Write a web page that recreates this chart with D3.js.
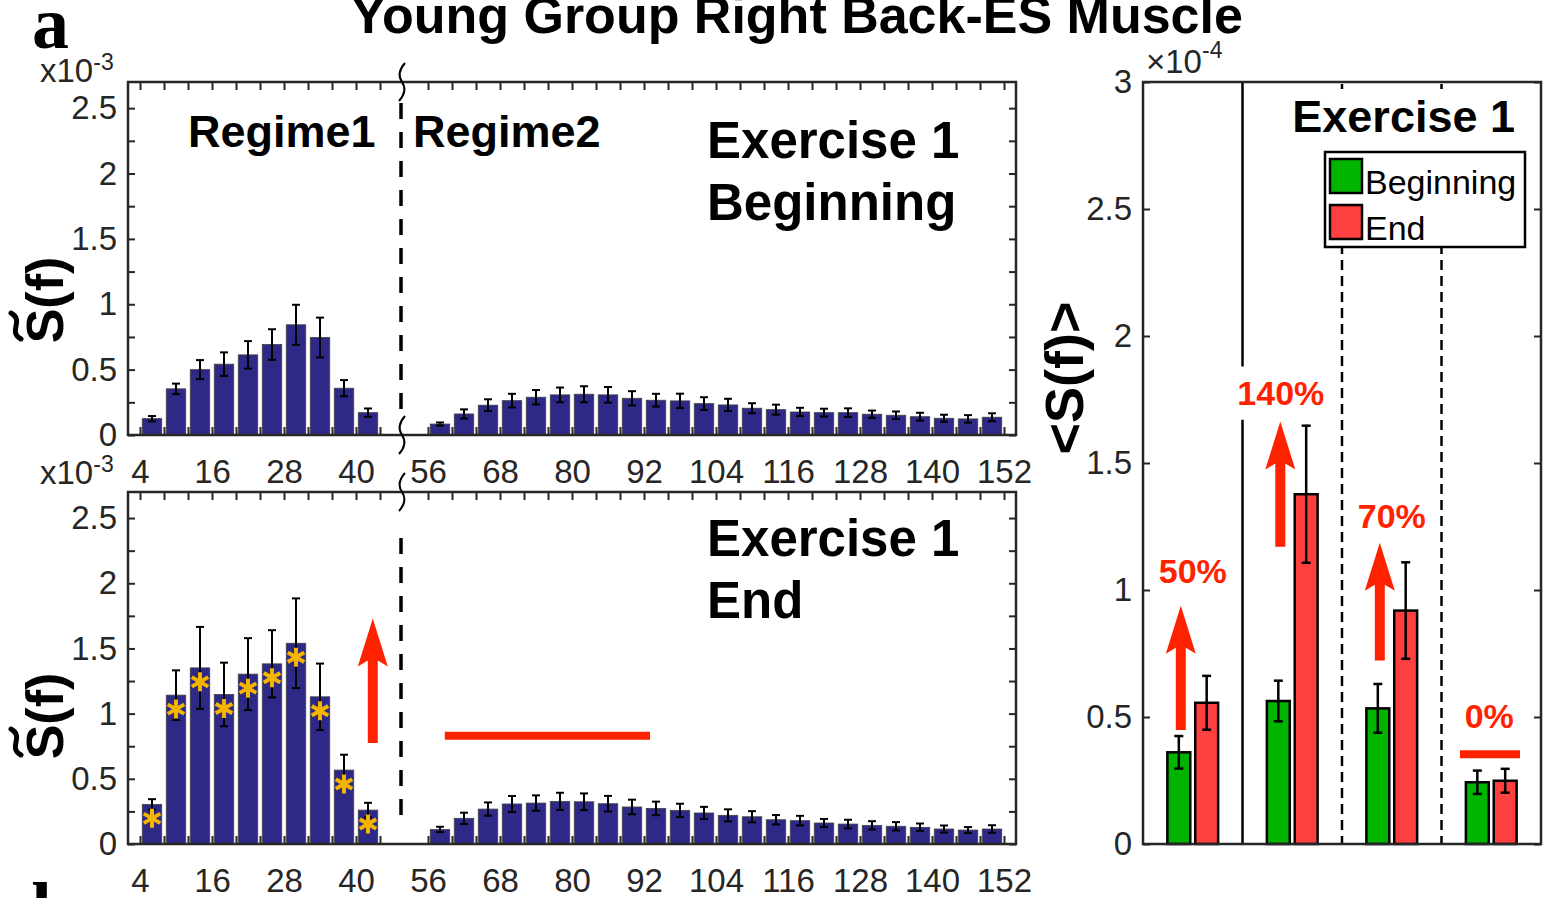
<!DOCTYPE html>
<html>
<head>
<meta charset="utf-8">
<script src="https://cdn.jsdelivr.net/npm/d3@7"></script>
<style>
  body { margin: 0; background: #fff; }
  text { font-family: "Liberation Sans", Arial, Helvetica, sans-serif; }
</style>
</head>
<body>
<svg id="fig" width="1557" height="898"></svg>
<script>
// ---- data (spectra in units of 1e-3, bin start frequency in Hz) ----
var binsR1 = [4, 8, 12, 16, 20, 24, 28, 32, 36, 40];
var binsR2 = [56, 60, 64, 68, 72, 76, 80, 84, 88, 92, 96, 100, 104, 108, 112, 116, 120, 124, 128, 132, 136, 140, 144, 148];
var xTickLabels = [4, 16, 28, 40, 56, 68, 80, 92, 104, 116, 128, 140, 152];
var xTicks = [4, 8, 12, 16, 20, 24, 28, 32, 36, 40, 44, 56, 60, 64, 68, 72, 76, 80, 84, 88, 92, 96, 100, 104, 108, 112, 116, 120, 124, 128, 132, 136, 140, 144, 148, 152];
var yTickLabels = [0, 0.5, 1, 1.5, 2, 2.5];
var yTicks = [0, 0.25, 0.5, 0.75, 1, 1.25, 1.5, 1.75, 2, 2.25, 2.5];

var begR1 = [0.125, 0.353, 0.50, 0.542, 0.613, 0.692, 0.843, 0.746, 0.358, 0.171];
var begR1Err = [0.02, 0.04, 0.073, 0.09, 0.105, 0.117, 0.153, 0.152, 0.062, 0.032];
var begR2 = [0.084, 0.161, 0.228, 0.263, 0.289, 0.307, 0.312, 0.307, 0.281, 0.266, 0.261, 0.24,
             0.23, 0.205, 0.194, 0.176, 0.171, 0.171, 0.159, 0.151, 0.14, 0.128, 0.123, 0.136];
var begR2Err = [0.012, 0.035, 0.045, 0.052, 0.055, 0.056, 0.061, 0.06, 0.054, 0.049, 0.055, 0.049,
                0.047, 0.038, 0.038, 0.032, 0.03, 0.033, 0.028, 0.029, 0.03, 0.027, 0.029, 0.03];
var endR1 = [0.304, 1.142, 1.351, 1.147, 1.303, 1.382, 1.540, 1.129, 0.567, 0.26];
var endR1Err = [0.04, 0.19, 0.314, 0.244, 0.276, 0.258, 0.344, 0.255, 0.118, 0.056];
var endR2 = [0.112, 0.197, 0.268, 0.307, 0.314, 0.327, 0.324, 0.309, 0.284, 0.273, 0.258, 0.238,
             0.22, 0.209, 0.186, 0.179, 0.161, 0.153, 0.143, 0.136, 0.128, 0.115, 0.107, 0.115];
var endR2Err = [0.02, 0.043, 0.051, 0.061, 0.059, 0.066, 0.064, 0.06, 0.056, 0.052, 0.051, 0.047,
                0.046, 0.043, 0.036, 0.037, 0.031, 0.033, 0.032, 0.032, 0.029, 0.027, 0.023, 0.029];
var endR1Starred = [true, true, true, true, true, true, true, true, true, true];

// ---- averaged spectra (units of 1e-4) ----
var groups = [1, 2, 3, 4];
var meanBeg = [0.361, 0.563, 0.534, 0.243];
var meanBegErr = [0.064, 0.08, 0.096, 0.046];
var meanEnd = [0.556, 1.377, 0.919, 0.249];
var meanEndErr = [0.106, 0.27, 0.19, 0.047];
var changeText = ["50%", "140%", "70%", "0%"];
var rightTicks = [0, 0.5, 1, 1.5, 2, 2.5, 3];

var AX = "#262626", BAR = "#2e2886", RED = "#ff2200", STAR = "#f5b400";
var svg = d3.select("#fig");

function arrowPath(x, yb, yt) {
  var sw = 10, hw = 30, hl = 48, hb = yt + hl;
  return "M" + (x - sw / 2) + "," + yb + "L" + (x - sw / 2) + "," + (hb - 6) +
    "L" + (x - hw / 2) + "," + hb + "L" + x + "," + yt + "L" + (x + hw / 2) + "," + hb +
    "L" + (x + sw / 2) + "," + (hb - 6) + "L" + (x + sw / 2) + "," + yb + "Z";
}

function squiggle(x, c) {
  return "M" + (x + 3) + "," + (c - 19) + "Q" + (x - 6) + "," + (c - 9) + " " + x + "," + c +
    "Q" + (x + 6) + "," + (c + 9) + " " + (x - 3) + "," + (c + 19);
}

function starPath(cx, cy) {
  var r = 9.5, p = "";
  [90, 30, 150].forEach(function (a) {
    var dx = r * Math.cos(a * Math.PI / 180), dy = r * Math.sin(a * Math.PI / 180);
    p += "M" + (cx - dx) + "," + (cy - dy) + "L" + (cx + dx) + "," + (cy + dy);
  });
  return p;
}

function spectrumPanel(top, bottom, v1, e1, v2, e2, opts) {
  var x = d3.scaleLinear().domain([2, 48, 52, 154]).range([128, 404, 404, 1016]);
  var y = d3.scaleLinear().domain([0, 2.7]).range([bottom, top]);
  var g = svg.append("g");
  var bw = 19.5;

  var d1 = binsR1.map(function (b, i) { return {f: b, v: v1[i], e: e1[i], s: opts.stars ? opts.stars[i] : false}; });
  var d2 = binsR2.map(function (b, i) { return {f: b, v: v2[i], e: e2[i], s: false}; });
  var data = d1.concat(d2);

  // inner ticks
  g.append("g").attr("transform", "translate(0," + top + ")")
    .call(d3.axisTop(x).tickValues(xTicks).tickSize(-8).tickFormat(""));
  g.append("g").attr("transform", "translate(0," + bottom + ")")
    .call(d3.axisBottom(x).tickValues(xTicks).tickSize(-8).tickFormat(""));
  g.append("g").attr("transform", "translate(128,0)")
    .call(d3.axisLeft(y).tickValues(yTicks).tickSize(-7).tickFormat(""));
  g.append("g").attr("transform", "translate(1016,0)")
    .call(d3.axisRight(y).tickValues(yTicks).tickSize(-7).tickFormat(""));

  // labels
  var xl = g.append("g").attr("transform", "translate(0," + bottom + ")")
    .call(d3.axisBottom(x).tickValues(xTickLabels).tickSize(0).tickFormat(d3.format("d")));
  xl.selectAll("text").attr("y", 48).attr("dy", null);
  g.append("g").attr("transform", "translate(128,0)")
    .call(d3.axisLeft(y).tickValues(yTickLabels).tickSize(0).tickPadding(11).tickFormat(d3.format("")));
  g.selectAll(".domain").remove();
  g.selectAll(".tick line").attr("stroke", AX).attr("stroke-width", 2);
  g.selectAll(".tick text").attr("fill", AX).style("font-size", "33px");

  // bars + error bars
  g.selectAll("rect.bar").data(data).enter().append("rect").attr("class", "bar")
    .attr("x", function (d) { return x(d.f + 2) - bw / 2; })
    .attr("y", function (d) { return y(d.v); })
    .attr("width", bw)
    .attr("height", function (d) { return y(0) - y(d.v); })
    .attr("fill", BAR).attr("stroke", "#444").attr("stroke-width", 0.8);

  var eb = g.selectAll("g.eb").data(data).enter().append("g").attr("class", "eb")
    .attr("stroke", "#000").attr("stroke-width", 2);
  eb.append("line")
    .attr("x1", function (d) { return x(d.f + 2); }).attr("x2", function (d) { return x(d.f + 2); })
    .attr("y1", function (d) { return y(d.v + d.e); }).attr("y2", function (d) { return y(d.v - d.e); });
  eb.append("line")
    .attr("x1", function (d) { return x(d.f + 2) - 4; }).attr("x2", function (d) { return x(d.f + 2) + 4; })
    .attr("y1", function (d) { return y(d.v + d.e); }).attr("y2", function (d) { return y(d.v + d.e); });
  eb.append("line")
    .attr("x1", function (d) { return x(d.f + 2) - 4; }).attr("x2", function (d) { return x(d.f + 2) + 4; })
    .attr("y1", function (d) { return y(d.v - d.e); }).attr("y2", function (d) { return y(d.v - d.e); });

  g.selectAll("path.star").data(data.filter(function (d) { return d.s; })).enter().append("path")
    .attr("class", "star")
    .attr("d", function (d) { return starPath(x(d.f + 2), y(d.v) + 14); })
    .attr("stroke", STAR).attr("stroke-width", 4).attr("stroke-linecap", "butt");

  // frame
  g.append("rect").attr("x", 128).attr("y", top).attr("width", 1016 - 128).attr("height", bottom - top)
    .attr("fill", "none").attr("stroke", AX).attr("stroke-width", 2.5);

  // axis break
  g.append("line").attr("x1", 401).attr("x2", 401)
    .attr("y1", top + opts.dashTop).attr("y2", bottom - opts.dashBottom)
    .attr("stroke", "#000").attr("stroke-width", 3.5).attr("stroke-dasharray", "16,13");
  g.append("path").attr("d", squiggle(402, top)).attr("fill", "none").attr("stroke", "#000").attr("stroke-width", 2);
  if (opts.bottomBreak) {
    g.append("path").attr("d", squiggle(402, bottom)).attr("fill", "none").attr("stroke", "#000").attr("stroke-width", 2);
  }

  // multiplier
  var m = g.append("text").attr("x", 40).attr("y", top + opts.multY).attr("fill", AX).style("font-size", "33px");
  m.append("tspan").text("x10");
  m.append("tspan").attr("dy", -12).style("font-size", "23px").text("-3");

  return {x: x, y: y, g: g};
}

function yLabelTilde(cy) {
  // S~(f) rotated, tilde drawn above the S
  svg.append("text").attr("transform", "translate(63," + cy + ") rotate(-90)")
    .attr("text-anchor", "middle").style("font-size", "52px").style("font-weight", "bold").text("S(f)");
  var sx = 16, sy = cy + 26;
  svg.append("path")
    .attr("d", "M" + (sx + 5) + "," + (sy + 13) + "C" + (sx - 9) + "," + (sy + 5) + " " + (sx + 9) + "," + (sy - 5) + " " + (sx - 5) + "," + (sy - 13))
    .attr("fill", "none").attr("stroke", "#000").attr("stroke-width", 5).attr("stroke-linecap", "round");
}

function boldText(x, y, size, txt, anchor, color) {
  return svg.append("text").attr("x", x).attr("y", y).attr("text-anchor", anchor || "start")
    .attr("fill", color || "#000").style("font-size", size + "px").style("font-weight", "bold").text(txt);
}

// ---- title and panel letters ----
boldText(797, 33, 52, "Young Group Right Back-ES Muscle", "middle");
svg.append("text").attr("x", 32).attr("y", 48).style("font-family", "'Liberation Serif', 'Times New Roman', serif")
  .style("font-size", "74px").style("font-weight", "bold").text("a");
svg.append("text").attr("x", 32).attr("y", 934).style("font-family", "'Liberation Serif', 'Times New Roman', serif")
  .style("font-size", "74px").style("font-weight", "bold").text("b");

// ---- spectrum panels ----
var pTop = spectrumPanel(82, 435, begR1, begR1Err, begR2, begR2Err,
  {bottomBreak: true, dashTop: 21, dashBottom: 15, multY: 0});
var pBot = spectrumPanel(492, 844, endR1, endR1Err, endR2, endR2Err,
  {stars: endR1Starred, bottomBreak: false, dashTop: 46, dashBottom: 16, multY: -8});

yLabelTilde(300);
yLabelTilde(716);

boldText(188, 147, 45, "Regime1");
boldText(413, 147, 45, "Regime2");
boldText(707, 158, 51, "Exercise 1");
boldText(707, 220, 51, "Beginning");
boldText(707, 556, 51, "Exercise 1");
boldText(707, 618, 51, "End");

// change markers on the "End" panel
pBot.g.append("path").attr("d", arrowPath(pBot.x(42.8), pBot.y(0.774), pBot.y(1.73))).attr("fill", RED);
pBot.g.append("line").attr("x1", pBot.x(58.8)).attr("x2", pBot.x(93))
  .attr("y1", pBot.y(0.83)).attr("y2", pBot.y(0.83)).attr("stroke", RED).attr("stroke-width", 8);

// ---- averaged spectrum panel ----
var xr = d3.scaleLinear().domain([0.5, 4.5]).range([1143, 1541]);
var yr = d3.scaleLinear().domain([0, 3]).range([844, 82]);
var gr = svg.append("g");
var rbw = xr(1.23) - xr(1);

gr.append("g").attr("transform", "translate(1143,0)")
  .call(d3.axisLeft(yr).tickValues(rightTicks).tickSize(-7).tickPadding(11).tickFormat(d3.format("")));
gr.append("g").attr("transform", "translate(1541,0)")
  .call(d3.axisRight(yr).tickValues(rightTicks).tickSize(-7).tickFormat(""));
gr.selectAll(".domain").remove();
gr.selectAll(".tick line").attr("stroke", AX).attr("stroke-width", 2);
gr.selectAll(".tick text").attr("fill", AX).style("font-size", "33px");

// group separators
gr.append("line").attr("x1", xr(1.5)).attr("x2", xr(1.5)).attr("y1", 82).attr("y2", yr(1.88))
  .attr("stroke", "#000").attr("stroke-width", 2.5);
gr.append("line").attr("x1", xr(1.5)).attr("x2", xr(1.5)).attr("y1", yr(1.67)).attr("y2", 844)
  .attr("stroke", "#000").attr("stroke-width", 2.5);
[2.5, 3.5].forEach(function (s) {
  gr.append("line").attr("x1", xr(s)).attr("x2", xr(s)).attr("y1", 84).attr("y2", 844)
    .attr("stroke", "#000").attr("stroke-width", 2.5).attr("stroke-dasharray", "10,6");
});

var rdata = [];
groups.forEach(function (gi, i) {
  rdata.push({x: gi - 0.14, v: meanBeg[i], e: meanBegErr[i], c: "#00b400"});
  rdata.push({x: gi + 0.14, v: meanEnd[i], e: meanEndErr[i], c: "#ff4040"});
});
gr.selectAll("rect.rb").data(rdata).enter().append("rect").attr("class", "rb")
  .attr("x", function (d) { return xr(d.x) - rbw / 2; })
  .attr("y", function (d) { return yr(d.v); })
  .attr("width", rbw).attr("height", function (d) { return yr(0) - yr(d.v); })
  .attr("fill", function (d) { return d.c; }).attr("stroke", "#000").attr("stroke-width", 2.5);
var reb = gr.selectAll("g.reb").data(rdata).enter().append("g").attr("class", "reb")
  .attr("stroke", "#000").attr("stroke-width", 2.5);
reb.append("line")
  .attr("x1", function (d) { return xr(d.x); }).attr("x2", function (d) { return xr(d.x); })
  .attr("y1", function (d) { return yr(d.v + d.e); }).attr("y2", function (d) { return yr(d.v - d.e); });
[1, -1].forEach(function (s) {
  reb.append("line")
    .attr("x1", function (d) { return xr(d.x) - 4.5; }).attr("x2", function (d) { return xr(d.x) + 4.5; })
    .attr("y1", function (d) { return yr(d.v + s * d.e); }).attr("y2", function (d) { return yr(d.v + s * d.e); });
});

// change annotations (arrows start at the Beginning bar)
var arrows = [
  {g: 1, base: 0.449, tip: 0.938, labelX: 1.0, labelY: 1.028},
  {g: 2, base: 1.17, tip: 1.663, labelX: 1.885, labelY: 1.728},
  {g: 3, base: 0.722, tip: 1.186, labelX: 3.0, labelY: 1.243}
];
arrows.forEach(function (a) {
  gr.append("path").attr("d", arrowPath(xr(a.g - 0.12), yr(a.base), yr(a.tip))).attr("fill", RED);
  boldText(xr(a.labelX), yr(a.labelY), 34, changeText[a.g - 1], "middle", RED);
});
gr.append("line").attr("x1", xr(3.686)).attr("x2", xr(4.289)).attr("y1", yr(0.353)).attr("y2", yr(0.353))
  .attr("stroke", RED).attr("stroke-width", 8);
boldText(xr(3.98), yr(0.456), 34, changeText[3], "middle", RED);

// frame
gr.append("rect").attr("x", 1143).attr("y", 82).attr("width", 1541 - 1143).attr("height", 844 - 82)
  .attr("fill", "none").attr("stroke", AX).attr("stroke-width", 2.5);

var mr = gr.append("text").attr("x", 1146).attr("y", 73).attr("fill", AX).style("font-size", "33px");
mr.append("tspan").text("\u00d710");
mr.append("tspan").attr("dy", -15).style("font-size", "23px").text("-4");

// white box behind the panel title hides the dashed separators there
gr.append("rect").attr("x", 1288).attr("y", 89).attr("width", 1538 - 1288).attr("height", 64).attr("fill", "#fff");
svg.append("text").attr("x", 1515).attr("y", 132).attr("text-anchor", "end")
  .style("font-size", "45px").style("font-weight", "bold").text("Exercise 1");

// legend
var lg = gr.append("g");
lg.append("rect").attr("x", 1325).attr("y", 152).attr("width", 200).attr("height", 95)
  .attr("fill", "#fff").attr("stroke", "#000").attr("stroke-width", 2.5);
[["Beginning", "#00b400", 159], ["End", "#ff4040", 205]].forEach(function (it) {
  lg.append("rect").attr("x", 1330).attr("y", it[2]).attr("width", 32).attr("height", 34)
    .attr("fill", it[1]).attr("stroke", "#000").attr("stroke-width", 2.5);
  lg.append("text").attr("x", 1365).attr("y", it[2] + 35).style("font-size", "34px").text(it[0]);
});

svg.append("text").attr("transform", "translate(1083,378) rotate(-90)").attr("text-anchor", "middle")
  .style("font-size", "54px").style("font-weight", "bold").text("<S(f)>");
</script>
</body>
</html>
